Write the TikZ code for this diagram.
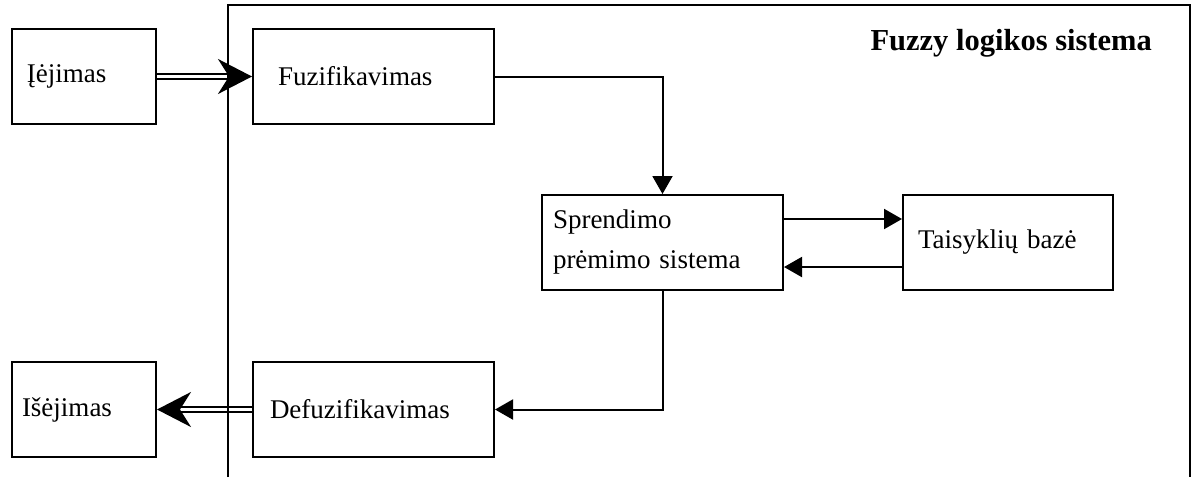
\documentclass[tikz,border=0pt]{standalone}
\usepackage{fontspec}
\setmainfont{Liberation Serif}
\usetikzlibrary{arrows.meta, calc}

\begin{document}
\begin{tikzpicture}[x=1pt, y=-1pt, >={Triangle[length=18pt, width=20pt]},
    blok/.style={draw, line width=2pt, minimum height=95pt, align=left,
        font=\fontsize{27}{40}\selectfont},
    link/.style={line width=2pt, ->},
    dbl/.style={double, double distance=3pt, line width=2pt,
        -{Stealth[length=34pt, width=35pt, inset=11pt]}}]
    \useasboundingbox (0,0) rectangle (1196,477);

    % blokai
    \node (in) [blok, inner xsep=15pt, text width=114pt] at (84,76.5) {Įėjimas};
    \node (fuz) [blok, inner xsep=25pt, text width=191pt] at (373.5,76.5) {Fuzifikavimas};
    \node (spr) [blok, inner xsep=11pt, text width=219pt] at (662.5,242.5) {Sprendimo\\prėmimo sistema};
    \node (tai) [blok, inner xsep=15pt, text width=180pt] at (1008,242.5) {Taisyklių bazė};
    \node (defuz) [blok, inner xsep=17pt, text width=207pt] at (373.5,409.5) {Defuzifikavimas};
    \node (out) [blok, inner xsep=10pt, text width=124pt] at (84,409.5) {Išėjimas};
    \node (title) [anchor=east, inner sep=0pt, font=\fontsize{30.5}{36}\selectfont\bfseries] at (1152,43) {Fuzzy logikos sistema};

    % rodyklės
    \draw[dbl] (in) -- (fuz);
    \draw[dbl] (defuz) -- (out);
    \draw[link] (fuz.east) -| (spr.north);
    \draw[link] ([yshift=23.5pt]spr.east) -- ([yshift=23.5pt]tai.west);
    \draw[link] ([yshift=-24.5pt]tai.west) -- ([yshift=-24.5pt]spr.east);
    \draw[link] (spr.south) |- (defuz.east);

    % sistemos rėmas
    \draw[line width=2pt] (228,477) -- (228,5) -- (1190,5) -- (1190,477);
\end{tikzpicture}
\end{document}
